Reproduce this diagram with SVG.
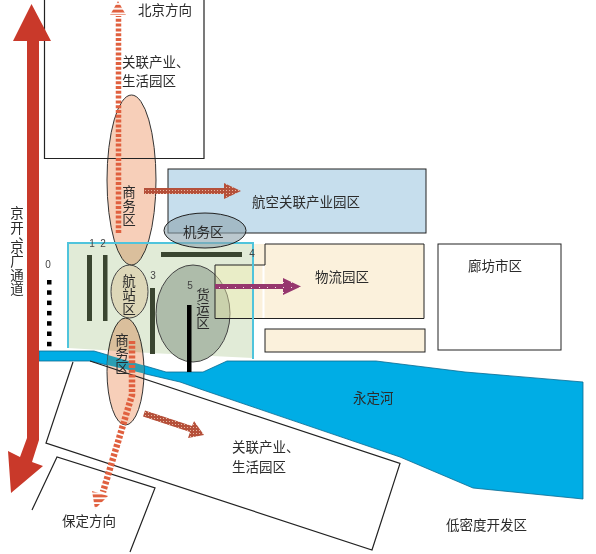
<svg xmlns="http://www.w3.org/2000/svg" width="596" height="554" viewBox="0 0 596 554">
<style>
text{font-family:"Noto Sans CJK SC","Noto Sans",sans-serif;font-size:13.5px;fill:#2b2b2b}
.n{font-family:"Liberation Sans",sans-serif;font-size:10px;fill:#444;text-anchor:middle}
.v{text-anchor:middle}
.o{fill:none;stroke:#222;stroke-width:1.2}
.bar{fill:#3a4530}
.sq{fill:#000}
.stripe{fill:none;stroke:#e0603f;stroke-width:5.5;stroke-dasharray:3 1.8}
</style>
<defs>
<pattern id="brownDots" width="3" height="3" patternUnits="userSpaceOnUse"><rect width="3" height="3" fill="#b5503a"/><rect x="1" y="1" width="1" height="1" fill="#e8b9a4"/></pattern>
<pattern id="purpleDots" width="8" height="5" patternUnits="userSpaceOnUse"><rect width="8" height="5" fill="#96376e"/><rect x="3" y="2" width="1" height="1" fill="#f3dbe8"/></pattern>
<pattern id="stripes" width="4.8" height="4.8" patternUnits="userSpaceOnUse"><rect width="4.8" height="3" fill="#e0603f"/></pattern>
<clipPath id="lowEll"><ellipse cx="125.5" cy="371.5" rx="18.5" ry="53.5"/></clipPath>
</defs>

<g id="river-back"><path d="M39 351H94L166 372H203L227 361H376L465 372L583 382V499L473 488L400 457L200 389L180 382L90 361H39Z" fill="#00ade5" stroke="#0a6a90" stroke-width=".8"/></g>

<g id="beijing-zone"><ellipse cx="131.500" cy="180" rx="24.500" ry="85" fill="#f7cfb9" stroke="#333" stroke-width="1"/></g>
<g id="south-business"><ellipse cx="125.500" cy="371.500" rx="18.500" ry="53.500" fill="#f7cfb9" stroke="#333" stroke-width="1"/>
<path clip-path="url(#lowEll)" d="M94 351L166 372L180 382L90 361Z" fill="#2b9eb3"/></g>

<g id="airport-area"><path d="M68 243H253V358L150 353L68 348Z" fill="#e1ebd7" style="mix-blend-mode:multiply"/><path d="M68 348V243H253V359" fill="none" stroke="#4fc4dc" stroke-width="2"/></g>

<g id="aviation-park"><rect x="168" y="169" width="258" height="64" fill="#c6deed" stroke="#222" stroke-width="1"/><text x="252" y="207">航空关联产业园区</text></g>
<g id="maintenance"><ellipse cx="205" cy="230.500" rx="41" ry="17.500" fill="#8ea3ad" fill-opacity=".6" stroke="#222" stroke-width="1"/><text x="183" y="237">机务区</text></g>

<g id="cargo"><ellipse cx="193" cy="313.500" rx="37" ry="48.500" fill="#aebcaa" stroke="#444" stroke-width="1"/></g>
<g id="logistics"><rect x="253" y="244" width="171" height="75" fill="#fbf1dc"/><rect x="215" y="265" width="38" height="53" fill="#f5efb0" fill-opacity=".4"/><rect x="262.500" y="265" width="2" height="54" fill="#fff"/><path d="M424 244H265V265H215V318.500H424Z" fill="none" stroke="#222" stroke-width="1"/><path d="M253 243V359" fill="none" stroke="#4fc4dc" stroke-width="2"/><text x="315" y="282">物流园区</text></g>
<g id="logistics-strip"><rect x="265" y="329" width="160" height="23" fill="#fbf1dc" stroke="#222" stroke-width="1"/></g>
<g id="langfang"><rect x="438" y="244" width="123" height="106" fill="#fff" stroke="#222" stroke-width="1"/><text x="468" y="271">廊坊市区</text></g>

<g id="terminal"><ellipse cx="129.500" cy="291.500" rx="18.500" ry="26.500" fill="#ddd7b8" stroke="#444" stroke-width="1"/></g>

<g id="runways">
<rect class="bar" x="87" y="255" width="5" height="66"/><rect class="bar" x="103" y="255" width="4.500" height="66"/><rect class="bar" x="150" y="288" width="5" height="66"/><rect class="bar" x="161" y="252" width="81" height="5"/><rect x="187" y="305" width="4.500" height="67" fill="#000"/>
<rect class="sq" x="47" y="280" width="4.500" height="4.500"/><rect class="sq" x="47" y="290.300" width="4.500" height="4.500"/><rect class="sq" x="47" y="300.600" width="4.500" height="4.500"/><rect class="sq" x="47" y="310.900" width="4.500" height="4.500"/><rect class="sq" x="47" y="321.200" width="4.500" height="4.500"/><rect class="sq" x="47" y="331.500" width="4.500" height="4.500"/><rect class="sq" x="47" y="341.800" width="4.500" height="4.500"/>
</g>

<g id="boxes">
<path class="o" d="M44.500 0V158.500H204V0"/>
<path class="o" d="M73 362L46 443L372 550L400 463.500L90 361"/>
<path class="o" d="M32 510L57 457L155 488L130 552"/>
</g>

<g id="connectors">
<path d="M27 41H13L31.500 4L51 41H39V440L32 462L43 466L11 493L8 451L20 457L27 438Z" fill="#c9392a"/>
<path d="M118.500 233V16" class="stripe"/>
<path d="M118 1L126 15H110Z" fill="url(#stripes)"/>
<path d="M132 341V395L103 492" class="stripe" style="stroke-width:6.500"/>
<path d="M92 491L108 496L95 509Z" fill="url(#stripes)"/>
<path d="M144 188H224V183L241 191L224 199V194H144Z" fill="url(#brownDots)"/>
<path d="M145 410.500L192 426L194 421L204 435L188 438L190 432L143 416.500Z" fill="url(#brownDots)"/>
<path d="M215 284H283V278L301 286.500L283 295V289H215Z" fill="url(#purpleDots)"/>
</g>

<g id="labels">
<text x="138" y="15">北京方向</text>
<text x="122" y="67">关联产业、</text><text x="122" y="86">生活园区</text>
<text class="v" x="129 129 129" y="197 211 225">商务区</text>
<text class="v" x="129 129 129" y="286 300 314">航站区</text>
<text class="v" x="122 122 122" y="345 359 373">商务区</text>
<text class="v" x="203 203 203" y="300 314 328">货运区</text>
<text class="v" x="17 17 25 17 17 17 17" y="218 233 240 252 266 280 294">京开、京广通道</text>
<text x="353" y="403">永定河</text>
<text x="232" y="452">关联产业、</text><text x="232" y="472">生活园区</text>
<text x="62" y="526">保定方向</text>
<text x="446" y="530">低密度开发区</text>
<text class="n" x="48" y="268">0</text><text class="n" x="92" y="247">1</text><text class="n" x="103" y="247">2</text><text class="n" x="153" y="279">3</text><text class="n" x="252" y="257">4</text><text class="n" x="190" y="289">5</text>
</g>
</svg>
